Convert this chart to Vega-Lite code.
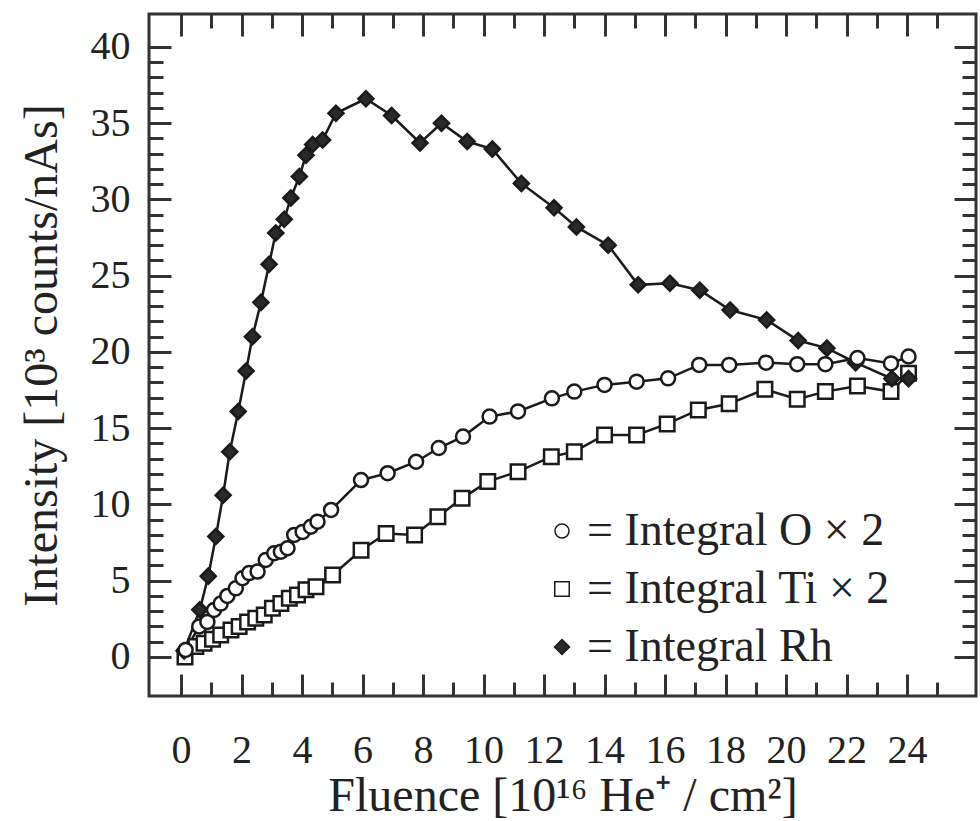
{
  "$schema": "https://vega.github.io/schema/vega-lite/v6.json",
  "autosize": "none",
  "width": 827,
  "height": 682,
  "padding": {"left": 149, "top": 14, "right": 4, "bottom": 125},
  "background": "white",
  "config": {
    "font": "Liberation Serif",
    "view": {"stroke": "#333", "strokeWidth": 3},
    "axis": {
      "domain": false,
      "grid": false,
      "tickColor": "#333",
      "tickWidth": 3,
      "labelFont": "Liberation Serif",
      "labelFontSize": 40,
      "labelColor": "#222",
      "titleFont": "Liberation Serif",
      "titleFontSize": 48,
      "titleFontWeight": "normal",
      "titleColor": "#222",
      "labelOverlap": false,
      "labelFlush": false
    },
    "legend": {
      "labelFont": "Liberation Serif",
      "labelFontSize": 46,
      "labelColor": "#222",
      "labelLimit": 500
    }
  },
  "data": {
    "values": [
      {"s": "Ti", "x": 0.13, "y": 0.0},
      {"s": "Ti", "x": 0.49, "y": 0.68},
      {"s": "Ti", "x": 0.76, "y": 0.9},
      {"s": "Ti", "x": 1.04, "y": 1.16},
      {"s": "Ti", "x": 1.31, "y": 1.44},
      {"s": "Ti", "x": 1.65, "y": 1.77},
      {"s": "Ti", "x": 1.92, "y": 2.0},
      {"s": "Ti", "x": 2.2, "y": 2.3},
      {"s": "Ti", "x": 2.47, "y": 2.54},
      {"s": "Ti", "x": 2.75, "y": 2.75},
      {"s": "Ti", "x": 3.02, "y": 3.2},
      {"s": "Ti", "x": 3.3, "y": 3.5},
      {"s": "Ti", "x": 3.58, "y": 3.85},
      {"s": "Ti", "x": 3.85, "y": 4.07},
      {"s": "Ti", "x": 4.13, "y": 4.4},
      {"s": "Ti", "x": 4.46, "y": 4.6},
      {"s": "Ti", "x": 5.01, "y": 5.38},
      {"s": "Ti", "x": 5.95, "y": 7.0},
      {"s": "Ti", "x": 6.78, "y": 8.1},
      {"s": "Ti", "x": 7.72, "y": 8.0},
      {"s": "Ti", "x": 8.49, "y": 9.2},
      {"s": "Ti", "x": 9.29, "y": 10.4},
      {"s": "Ti", "x": 10.14, "y": 11.5},
      {"s": "Ti", "x": 11.14, "y": 12.15},
      {"s": "Ti", "x": 12.24, "y": 13.13},
      {"s": "Ti", "x": 13.0, "y": 13.46},
      {"s": "Ti", "x": 14.0, "y": 14.56},
      {"s": "Ti", "x": 15.06, "y": 14.56},
      {"s": "Ti", "x": 16.07, "y": 15.28},
      {"s": "Ti", "x": 17.1, "y": 16.2},
      {"s": "Ti", "x": 18.12, "y": 16.6},
      {"s": "Ti", "x": 19.3, "y": 17.55},
      {"s": "Ti", "x": 20.37, "y": 16.9},
      {"s": "Ti", "x": 21.3, "y": 17.4},
      {"s": "Ti", "x": 22.36, "y": 17.77},
      {"s": "Ti", "x": 23.47, "y": 17.4},
      {"s": "Ti", "x": 24.05, "y": 18.6},
      {"s": "Rh", "x": 0.1, "y": 0.4},
      {"s": "Rh", "x": 0.62, "y": 3.1},
      {"s": "Rh", "x": 0.9, "y": 5.3},
      {"s": "Rh", "x": 1.15, "y": 7.9},
      {"s": "Rh", "x": 1.39, "y": 10.6},
      {"s": "Rh", "x": 1.61, "y": 13.45},
      {"s": "Rh", "x": 1.89, "y": 16.1},
      {"s": "Rh", "x": 2.15, "y": 18.75},
      {"s": "Rh", "x": 2.36, "y": 21.0},
      {"s": "Rh", "x": 2.64, "y": 23.25},
      {"s": "Rh", "x": 2.91, "y": 25.75},
      {"s": "Rh", "x": 3.13, "y": 27.8},
      {"s": "Rh", "x": 3.41, "y": 28.7},
      {"s": "Rh", "x": 3.63, "y": 30.1},
      {"s": "Rh", "x": 3.91, "y": 31.5},
      {"s": "Rh", "x": 4.13, "y": 32.9},
      {"s": "Rh", "x": 4.35, "y": 33.6},
      {"s": "Rh", "x": 4.68, "y": 33.9},
      {"s": "Rh", "x": 5.12, "y": 35.65},
      {"s": "Rh", "x": 6.11, "y": 36.6},
      {"s": "Rh", "x": 6.96, "y": 35.5},
      {"s": "Rh", "x": 7.9, "y": 33.7},
      {"s": "Rh", "x": 8.61, "y": 35.0},
      {"s": "Rh", "x": 9.46, "y": 33.8},
      {"s": "Rh", "x": 10.29, "y": 33.3},
      {"s": "Rh", "x": 11.25, "y": 31.05},
      {"s": "Rh", "x": 12.33, "y": 29.45},
      {"s": "Rh", "x": 13.07, "y": 28.2},
      {"s": "Rh", "x": 14.12, "y": 27.0},
      {"s": "Rh", "x": 15.11, "y": 24.4},
      {"s": "Rh", "x": 16.16, "y": 24.5},
      {"s": "Rh", "x": 17.15, "y": 24.05},
      {"s": "Rh", "x": 18.15, "y": 22.75},
      {"s": "Rh", "x": 19.36, "y": 22.1},
      {"s": "Rh", "x": 20.4, "y": 20.75},
      {"s": "Rh", "x": 21.35, "y": 20.25},
      {"s": "Rh", "x": 22.3, "y": 19.3},
      {"s": "Rh", "x": 23.5, "y": 18.25},
      {"s": "Rh", "x": 24.05, "y": 18.25},
      {"s": "O", "x": 0.15, "y": 0.46},
      {"s": "O", "x": 0.6, "y": 2.0},
      {"s": "O", "x": 0.87, "y": 2.3},
      {"s": "O", "x": 1.09, "y": 3.08},
      {"s": "O", "x": 1.31, "y": 3.5},
      {"s": "O", "x": 1.53, "y": 4.0},
      {"s": "O", "x": 1.81, "y": 4.5},
      {"s": "O", "x": 2.03, "y": 5.16},
      {"s": "O", "x": 2.25, "y": 5.5},
      {"s": "O", "x": 2.53, "y": 5.6},
      {"s": "O", "x": 2.8, "y": 6.36},
      {"s": "O", "x": 3.08, "y": 6.8},
      {"s": "O", "x": 3.3, "y": 6.9},
      {"s": "O", "x": 3.52, "y": 7.13},
      {"s": "O", "x": 3.74, "y": 8.0},
      {"s": "O", "x": 4.02, "y": 8.2},
      {"s": "O", "x": 4.29, "y": 8.54},
      {"s": "O", "x": 4.51, "y": 8.87},
      {"s": "O", "x": 4.96, "y": 9.64},
      {"s": "O", "x": 5.95, "y": 11.6},
      {"s": "O", "x": 6.83, "y": 12.05},
      {"s": "O", "x": 7.77, "y": 12.8},
      {"s": "O", "x": 8.52, "y": 13.7},
      {"s": "O", "x": 9.32, "y": 14.45},
      {"s": "O", "x": 10.2, "y": 15.76},
      {"s": "O", "x": 11.14, "y": 16.1},
      {"s": "O", "x": 12.26, "y": 16.96},
      {"s": "O", "x": 13.0, "y": 17.4},
      {"s": "O", "x": 14.0, "y": 17.84},
      {"s": "O", "x": 15.06, "y": 18.05},
      {"s": "O", "x": 16.1, "y": 18.27},
      {"s": "O", "x": 17.13, "y": 19.15},
      {"s": "O", "x": 18.12, "y": 19.15},
      {"s": "O", "x": 19.34, "y": 19.3},
      {"s": "O", "x": 20.37, "y": 19.2},
      {"s": "O", "x": 21.3, "y": 19.2},
      {"s": "O", "x": 22.36, "y": 19.6},
      {"s": "O", "x": 23.47, "y": 19.25},
      {"s": "O", "x": 24.05, "y": 19.7}
    ]
  },
  "resolve": {"axis": {"x": "independent", "y": "independent"}},
  "layer": [
    {
      "mark": {"type": "line", "color": "#1a1a1a", "strokeWidth": 2.5},
      "encoding": {
        "x": {
          "field": "x", "type": "quantitative",
          "scale": {"domain": [-1.06, 26.28], "nice": false, "zero": false},
          "axis": {
            "orient": "bottom",
            "values": [0,1,2,3,4,5,6,7,8,9,10,11,12,13,14,15,16,17,18,19,20,21,22,23,24,25],
            "tickSize": {"condition": {"test": "datum.value % 2 === 0", "value": -22}, "value": -14},
            "labelExpr": "datum.value % 2 === 0 ? datum.label : ''",
            "labelPadding": 56,
            "title": "Fluence [10¹⁶ He⁺ / cm²]",
            "titlePadding": -6
          }
        },
        "y": {
          "field": "y", "type": "quantitative",
          "scale": {"domain": [-2.56, 42.16], "nice": false, "zero": false},
          "axis": {
            "orient": "left",
            "values": [0,1,2,3,4,5,6,7,8,9,10,11,12,13,14,15,16,17,18,19,20,21,22,23,24,25,26,27,28,29,30,31,32,33,34,35,36,37,38,39,40],
            "tickSize": {"condition": {"test": "datum.value % 5 === 0", "value": -22}, "value": -14},
            "labelExpr": "datum.value % 5 === 0 ? datum.label : ''",
            "labelPadding": 41,
            "title": "Intensity [10³ counts/nAs]",
            "titlePadding": 24
          }
        },
        "detail": {"field": "s"}
      }
    },
    {
      "mark": {"type": "point", "filled": false, "stroke": "#1a1a1a", "strokeWidth": 2.5, "opacity": 1},
      "encoding": {
        "x": {
          "field": "x", "type": "quantitative",
          "axis": {
            "orient": "top",
            "values": [0,1,2,3,4,5,6,7,8,9,10,11,12,13,14,15,16,17,18,19,20,21,22,23,24,25],
            "tickSize": {"condition": {"test": "datum.value % 2 === 0", "value": -22}, "value": -14},
            "labels": false,
            "title": null
          }
        },
        "y": {
          "field": "y", "type": "quantitative",
          "axis": {
            "orient": "right",
            "values": [0,1,2,3,4,5,6,7,8,9,10,11,12,13,14,15,16,17,18,19,20,21,22,23,24,25,26,27,28,29,30,31,32,33,34,35,36,37,38,39,40],
            "tickSize": {"condition": {"test": "datum.value % 5 === 0", "value": -22}, "value": -14},
            "labels": false,
            "title": null
          }
        },
        "shape": {
          "field": "s", "type": "nominal",
          "scale": {"domain": ["O", "Ti", "Rh"], "range": ["circle", "square", "diamond"]},
          "legend": {
            "orient": "none",
            "legendX": 390,
            "legendY": 494,
            "title": null,
            "labelOffset": 2,
            "rowPadding": 12,
            "labelExpr": "datum.value === 'O' ? '= Integral O × 2' : datum.value === 'Ti' ? '= Integral Ti × 2' : '= Integral Rh'",
            "encode": {
              "symbols": {
                "update": {
                  "stroke": {"value": "#1a1a1a"},
                  "strokeWidth": {"value": 2.5},
                  "size": {"signal": "datum.value === 'Rh' ? 320 : datum.value === 'Ti' ? 210 : 190"}
                }
              }
            }
          }
        },
        "fill": {
          "field": "s", "type": "nominal",
          "scale": {"domain": ["O", "Ti", "Rh"], "range": ["white", "white", "#2a2a2a"]},
          "legend": {
            "orient": "none",
            "legendX": 390,
            "legendY": 494,
            "title": null,
            "labelOffset": 2,
            "rowPadding": 12,
            "labelExpr": "datum.value === 'O' ? '= Integral O × 2' : datum.value === 'Ti' ? '= Integral Ti × 2' : '= Integral Rh'",
            "encode": {
              "symbols": {
                "update": {
                  "stroke": {"value": "#1a1a1a"},
                  "strokeWidth": {"value": 2.5},
                  "size": {"signal": "datum.value === 'Rh' ? 320 : datum.value === 'Ti' ? 210 : 190"}
                }
              }
            }
          }
        },
        "size": {
          "field": "s", "type": "nominal",
          "scale": {"domain": ["O", "Ti", "Rh"], "range": [196, 225, 360]},
          "legend": {
            "orient": "none",
            "legendX": 390,
            "legendY": 494,
            "title": null,
            "labelOffset": 2,
            "rowPadding": 12,
            "labelExpr": "datum.value === 'O' ? '= Integral O × 2' : datum.value === 'Ti' ? '= Integral Ti × 2' : '= Integral Rh'",
            "encode": {
              "symbols": {
                "update": {
                  "stroke": {"value": "#1a1a1a"},
                  "strokeWidth": {"value": 2.5},
                  "size": {"signal": "datum.value === 'Rh' ? 320 : datum.value === 'Ti' ? 210 : 190"}
                }
              }
            }
          }
        }
      }
    }
  ]
}
